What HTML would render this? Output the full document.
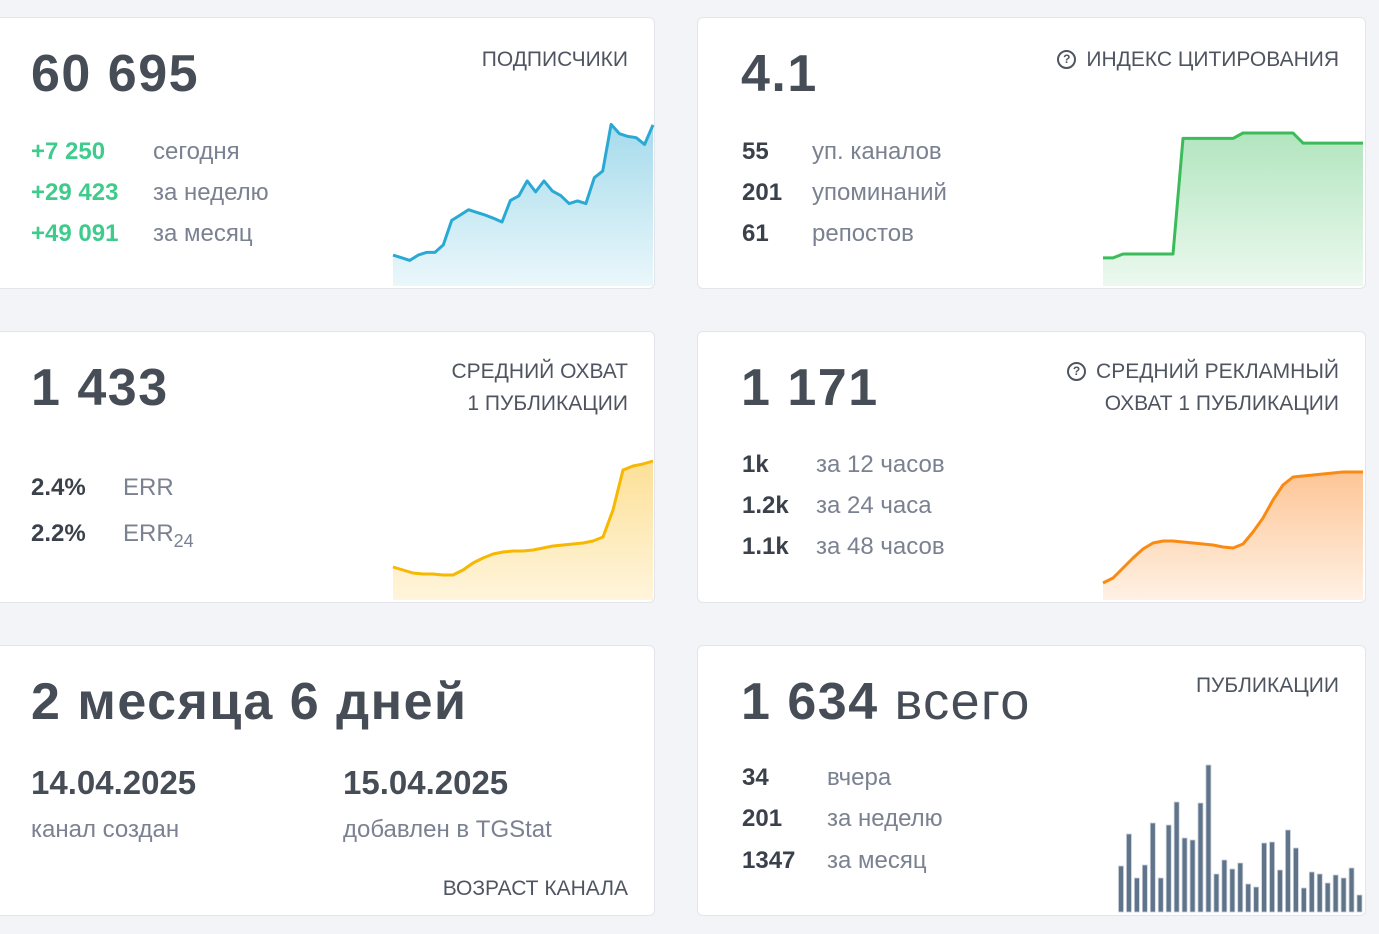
<!DOCTYPE html>
<html><head><meta charset="utf-8"><style>
body{margin:0;width:1379px;height:934px;background:#f3f4f8;font-family:"Liberation Sans",sans-serif;position:relative;overflow:hidden}
.card{position:absolute;background:#fff;border:1px solid #e3e5eb;border-radius:6px;overflow:hidden}
.big{position:absolute;font-size:52px;font-weight:bold;color:#474d57;letter-spacing:1.5px;white-space:nowrap}
.hdr{position:absolute;right:26px;font-size:21px;color:#4f5560;text-align:right;line-height:32px;white-space:nowrap}
.row{position:absolute;font-size:24px;white-space:nowrap}
.v{position:absolute;color:#3b414b;font-weight:bold}
.l{position:absolute;color:#7a8190}
.g{color:#3fcb8c}
svg{position:absolute}
.q{display:inline-block;width:15px;height:15px;border:2px solid #4f5560;border-radius:50%;font-size:12px;line-height:15px;text-align:center;font-weight:bold;vertical-align:3px;margin-right:10px}
</style></head><body>
<div class="card" style="left:-10px;top:17px;width:663px;height:270px">
 <div class="big" style="left:40px;top:26px">60 695</div>
 <div class="hdr" style="top:26px">ПОДПИСЧИКИ</div>
 <div class="row" style="left:40px;top:120px"><span class="v g" style="left:0">+7 250</span><span class="l" style="left:122px">сегодня</span></div>
 <div class="row" style="left:40px;top:161px"><span class="v g" style="left:0">+29 423</span><span class="l" style="left:122px">за неделю</span></div>
 <div class="row" style="left:40px;top:202px"><span class="v g" style="left:0">+49 091</span><span class="l" style="left:122px">за месяц</span></div>
</div>
<div class="card" style="left:697px;top:17px;width:667px;height:270px">
 <div class="big" style="left:43px;top:26px">4.1</div>
 <div class="hdr" style="top:26px"><span class="q">?</span>ИНДЕКС ЦИТИРОВАНИЯ</div>
 <div class="row" style="left:44px;top:120px"><span class="v" style="left:0">55</span><span class="l" style="left:70px">уп. каналов</span></div>
 <div class="row" style="left:44px;top:161px"><span class="v" style="left:0">201</span><span class="l" style="left:70px">упоминаний</span></div>
 <div class="row" style="left:44px;top:202px"><span class="v" style="left:0">61</span><span class="l" style="left:70px">репостов</span></div>
</div>
<div class="card" style="left:-10px;top:331px;width:663px;height:270px">
 <div class="big" style="left:40px;top:26px">1 433</div>
 <div class="hdr" style="top:24px">СРЕДНИЙ ОХВАТ<br>1 ПУБЛИКАЦИИ</div>
 <div class="row" style="left:40px;top:142px"><span class="v" style="left:0">2.4%</span><span class="l" style="left:92px">ERR</span></div>
 <div class="row" style="left:40px;top:188px"><span class="v" style="left:0">2.2%</span><span class="l" style="left:92px">ERR<sub style="font-size:18px">24</sub></span></div>
</div>
<div class="card" style="left:697px;top:331px;width:667px;height:270px">
 <div class="big" style="left:43px;top:26px">1 171</div>
 <div class="hdr" style="top:24px"><span class="q">?</span>СРЕДНИЙ РЕКЛАМНЫЙ<br>ОХВАТ 1 ПУБЛИКАЦИИ</div>
 <div class="row" style="left:44px;top:119px"><span class="v" style="left:0">1k</span><span class="l" style="left:74px">за 12 часов</span></div>
 <div class="row" style="left:44px;top:160px"><span class="v" style="left:0">1.2k</span><span class="l" style="left:74px">за 24 часа</span></div>
 <div class="row" style="left:44px;top:201px"><span class="v" style="left:0">1.1k</span><span class="l" style="left:74px">за 48 часов</span></div>
</div>
<div class="card" style="left:-10px;top:645px;width:663px;height:269px">
 <div class="big" style="left:40px;top:26px">2 месяца 6 дней</div>
 <div class="row" style="left:40px;top:118px;font-size:33px;font-weight:bold;color:#474d57">14.04.2025</div>
 <div class="row l" style="left:40px;top:170px">канал создан</div>
 <div class="row" style="left:352px;top:118px;font-size:33px;font-weight:bold;color:#474d57">15.04.2025</div>
 <div class="row l" style="left:352px;top:170px">добавлен в TGStat</div>
 <div class="hdr" style="top:227px">ВОЗРАСТ КАНАЛА</div>
</div>
<div class="card" style="left:697px;top:645px;width:667px;height:269px">
 <div class="big" style="left:43px;top:26px">1 634 <span style="font-weight:normal">всего</span></div>
 <div class="hdr" style="top:24px">ПУБЛИКАЦИИ</div>
 <div class="row" style="left:44px;top:118px"><span class="v" style="left:0">34</span><span class="l" style="left:85px">вчера</span></div>
 <div class="row" style="left:44px;top:159px"><span class="v" style="left:0">201</span><span class="l" style="left:85px">за неделю</span></div>
 <div class="row" style="left:44px;top:201px"><span class="v" style="left:0">1347</span><span class="l" style="left:85px">за месяц</span></div>
</div>
<svg id="charts" width="1379" height="934" style="left:0;top:0">
<defs>
<linearGradient id="gb" x1="0" y1="0" x2="0" y2="1"><stop offset="0" stop-color="#a6dbeb"/><stop offset="1" stop-color="#eaf7fb"/></linearGradient>
<linearGradient id="gg" x1="0" y1="0" x2="0" y2="1"><stop offset="0" stop-color="#b2e5bf"/><stop offset="1" stop-color="#ecf9ef"/></linearGradient>
<linearGradient id="gy" x1="0" y1="0" x2="0" y2="1"><stop offset="0" stop-color="#fde097"/><stop offset="1" stop-color="#fff5dc"/></linearGradient>
<linearGradient id="go" x1="0" y1="0" x2="0" y2="1"><stop offset="0" stop-color="#fdc596"/><stop offset="1" stop-color="#fff1e4"/></linearGradient>
</defs>
</svg>
<script>
const subscriberValues=[11600,10600,9600,11600,12600,12600,15400,24600,26600,28600,27600,26600,25400,24000,32100,33800,39400,35300,39400,35600,33900,30900,31900,30900,40600,43100,60600,57100,56100,55600,53100,60400];
const citationValues=[0.78,0.78,0.89,0.89,0.89,0.89,0.89,0.89,4.1,4.1,4.1,4.1,4.1,4.1,4.25,4.25,4.25,4.25,4.25,4.25,3.97,3.97,3.97,3.97,3.97,3.97,3.97];
const reachValues=[330,300,270,260,260,250,250,300,370,420,460,480,490,490,500,520,540,550,560,570,590,630,900,1300,1340,1360,1390];
const adReachValues=[170,220,320,420,510,570,590,590,580,570,560,550,530,520,560,680,820,1000,1150,1230,1240,1250,1260,1270,1280,1280,1280];
const postValues=[46,78,34,47,89,34,87,110,74,72,109,147,38,52,43,49,28,25,69,70,42,82,64,24,40,38,29,37,34,44,17];
const svg=document.getElementById('charts');
const NS='http://www.w3.org/2000/svg';
function area(vals,x0,x1,yBottom,yScale,line,fill,name){
  const xs=i=>x0+(x1-x0)*i/(vals.length-1);
  const ys=v=>yBottom-v*yScale;
  let d=vals.map((v,i)=>(i?'L':'M')+xs(i).toFixed(1)+' '+ys(v).toFixed(1)).join(' ');
  const a=document.createElementNS(NS,'path');
  a.setAttribute('d',d+` L${x1} ${yBottom} L${x0} ${yBottom} Z`);
  a.setAttribute('fill',fill);
  
  
  svg.appendChild(a);
  const p=document.createElementNS(NS,'path');
  p.setAttribute('d',d);p.setAttribute('fill','none');p.setAttribute('stroke',line);
  p.setAttribute('stroke-width','3');p.setAttribute('stroke-linejoin','round');
  
  
  svg.appendChild(p);
}
area(subscriberValues,393,653,286,1/375,'#29a9d3','url(#gb)','subscribers');
area(citationValues,1103,1363,286,36,'#3cbb5a','url(#gg)','citation');
area(reachValues,393,653,600,0.1,'#f6b800','url(#gy)','reach');
area(adReachValues,1103,1363,600,0.1,'#fb8a12','url(#go)','ad-reach');
const bx0=1121,bstep=7.95,bBase=912;
postValues.forEach((v,i)=>{
  const r=document.createElementNS(NS,'rect');
  r.setAttribute('x',bx0+i*bstep-2.5);r.setAttribute('y',bBase-v);
  r.setAttribute('width',5);r.setAttribute('height',v);
  r.setAttribute('fill','#5f7389');r.setAttribute('stroke','#c9d1db');r.setAttribute('stroke-width','0.8');
  
  
  svg.appendChild(r);
});
</script>
</body></html>
